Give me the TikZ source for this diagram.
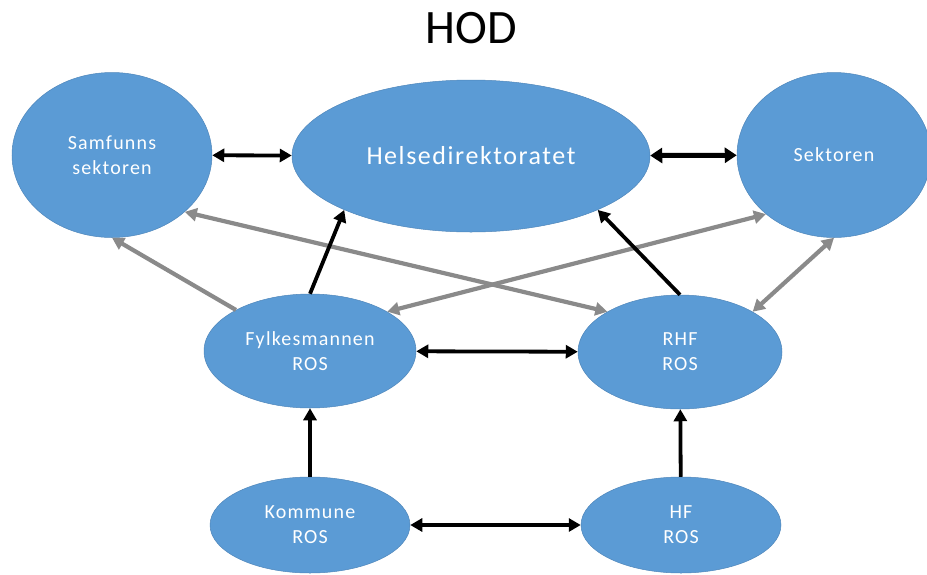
\documentclass[tikz,border=0pt]{standalone}
\usepackage{fontspec}
\setmainfont{Carlito}[LetterSpace=6]
\newfontfamily\titlefont{Carlito}
\usetikzlibrary{shapes.geometric, arrows.meta}
\definecolor{officeblue}{HTML}{5B9BD5}
\definecolor{officeedge}{HTML}{4F86BA}
\definecolor{linkgray}{HTML}{8A8A8A}

\begin{document}
\begin{tikzpicture}[x=1pt, y=-1pt, >={Triangle[length=12pt, width=13pt]},
    blob/.style={ellipse, fill=officeblue, draw=officeedge, line width=0.5pt, inner sep=0pt,
                 text=white, align=center, font=\fontsize{20}{25}\selectfont},
    blk/.style={line width=3.8pt, black},
    gry/.style={line width=4.2pt, linkgray}]
                    \useasboundingbox (0,0) rectangle (927,574);
                    \node (hod) at (471,28) {\titlefont\fontsize{48}{50}\selectfont HOD};
                    % top row
                    \node[blob, minimum width=200pt, minimum height=165pt] (samf) at (112,155) {Samfunns\\sektoren};
                    \node[blob, minimum width=358pt, minimum height=152pt, font=\fontsize{26}{30}\selectfont] (helse) at (471,156) {Helsedirektoratet};
                    \node[blob, minimum width=194pt, minimum height=165pt] (sekt) at (834,155) {Sektoren};
                    % middle row
                    \node[blob, minimum width=212pt, minimum height=114pt] (fylke) at (310,351) {Fylkesmannen\\ROS};
                    \node[blob, minimum width=204pt, minimum height=114pt] (rhf) at (680,352) {RHF\\ROS};
                    % bottom row
                    \node[blob, minimum width=200pt, minimum height=96pt] (komm) at (310,525) {Kommune\\ROS};
                    \node[blob, minimum width=200pt, minimum height=96pt] (hf) at (681,525) {HF\\ROS};
                    % gray links
                    \draw[gry, ->] (fylke.151) -- (samf.south);
                    \draw[gry, <->] (rhf.151) -- (samf.-38);
                    \draw[gry, <->] (fylke.27) -- (sekt.221);
                    \draw[gry, <->] (rhf.29) -- (sekt.south);
                    % black links
                    \draw[blk, <->] (samf) -- (helse);
                    \draw[blk, line width=5pt, {Triangle[length=12pt, width=15pt]}-{Triangle[length=12pt, width=15pt]}] (helse) -- (sekt);
                    \draw[blk, ->] (fylke.north) -- (helse.south west);
                    \draw[blk, ->] (rhf.north) -- (helse.south east);
                    \draw[blk, <->] (fylke) -- (rhf);
                    \draw[blk, <->] (komm) -- (hf);
                    \draw[blk, ->] (komm) -- (fylke);
                    \draw[blk, ->] (hf) -- (rhf);
\end{tikzpicture}
\end{document}
